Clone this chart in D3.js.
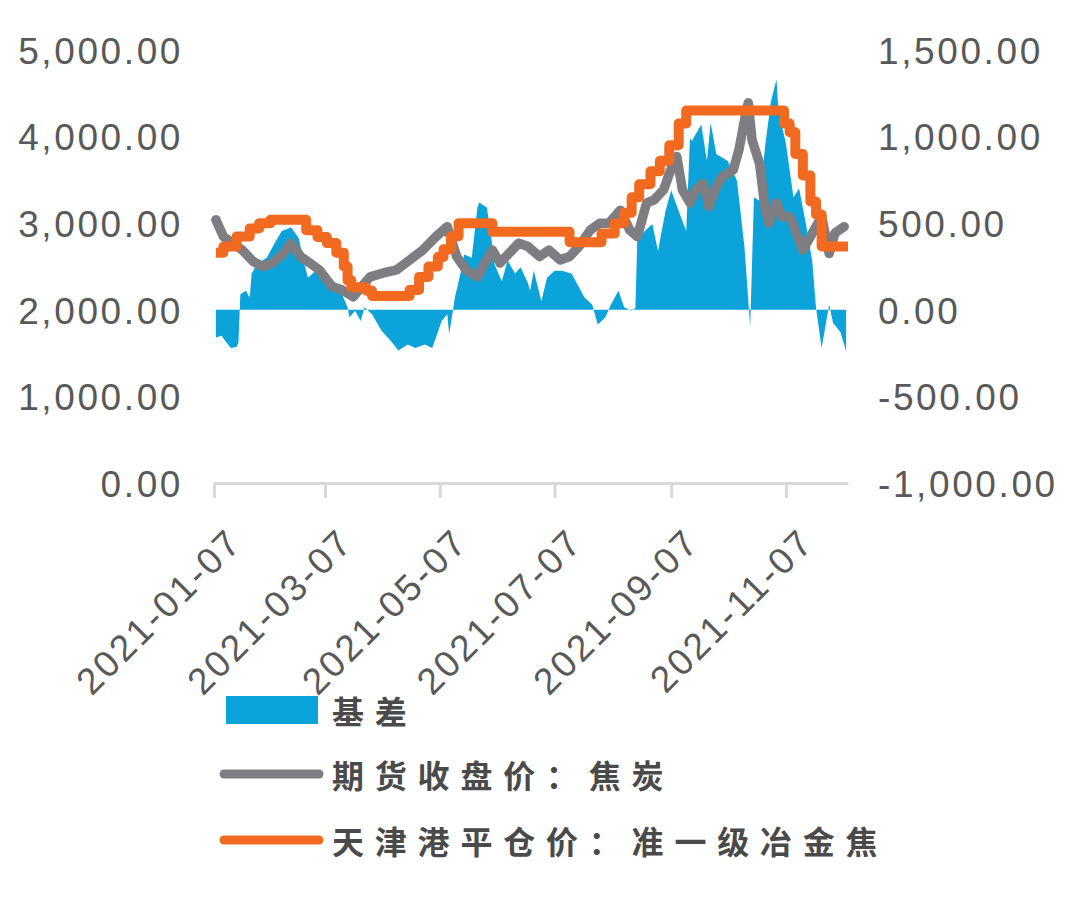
<!DOCTYPE html>
<html>
<head>
<meta charset="utf-8">
<script src="https://cdn.jsdelivr.net/npm/d3@7"></script>
<style>
  body { margin: 0; background: #ffffff; }
  .tick-label { font-family: "Liberation Sans", Arial, sans-serif; font-size: 37px; fill: #595959; letter-spacing: 2.6px; }
  .legend-label { font-family: "Noto Sans CJK SC", sans-serif; font-size: 32px; font-weight: 700; fill: #4a4a4a; letter-spacing: 10.8px; }
</style>
</head>
<body>
<svg id="chart" width="1080" height="913"></svg>
<script>

/* DATA */

// 基差, right axis
const basis = [
  ["2021-01-08", -160], ["2021-01-11", -150], ["2021-01-13", -180], ["2021-01-16", -220],
  ["2021-01-19", -215], ["2021-01-20", -190], ["2021-01-21", 90], ["2021-01-24", 110],
  ["2021-01-26", 70], ["2021-01-27", 210], ["2021-01-30", 265], ["2021-02-04", 300],
  ["2021-02-08", 380], ["2021-02-12", 455], ["2021-02-17", 475], ["2021-02-21", 415],
  ["2021-02-24", 265], ["2021-02-26", 185], ["2021-03-02", 225], ["2021-03-07", 165],
  ["2021-03-12", 130], ["2021-03-16", 90], ["2021-03-19", 15], ["2021-03-20", -45],
  ["2021-03-23", -5], ["2021-03-26", -65], ["2021-03-28", 15], ["2021-04-01", -25],
  ["2021-04-06", -120], ["2021-04-11", -180], ["2021-04-15", -235], ["2021-04-20", -200],
  ["2021-04-24", -220], ["2021-04-29", -200], ["2021-05-03", -220], ["2021-05-05", -160],
  ["2021-05-08", -65], ["2021-05-11", -25], ["2021-05-12", -140], ["2021-05-14", -5],
  ["2021-05-15", 70], ["2021-05-18", 210], ["2021-05-20", 320], ["2021-05-24", 300],
  ["2021-05-27", 590], ["2021-05-28", 620], ["2021-06-01", 590], ["2021-06-03", 455],
  ["2021-06-05", 265], ["2021-06-09", 165], ["2021-06-12", 285], ["2021-06-16", 210],
  ["2021-06-19", 245], ["2021-06-23", 150], ["2021-06-24", 110], ["2021-06-26", 225],
  ["2021-06-30", 50], ["2021-07-03", 185], ["2021-07-07", 225], ["2021-07-11", 225],
  ["2021-07-16", 210], ["2021-07-19", 150], ["2021-07-23", 70], ["2021-07-27", 30],
  ["2021-07-30", -85], ["2021-08-03", -45], ["2021-08-06", 30], ["2021-08-10", 110],
  ["2021-08-13", 15], ["2021-08-17", -5], ["2021-08-19", 10], ["2021-08-20", 415],
  ["2021-08-24", 455], ["2021-08-28", 495], ["2021-08-31", 340], ["2021-09-04", 570],
  ["2021-09-07", 690], ["2021-09-11", 570], ["2021-09-15", 455], ["2021-09-17", 990],
  ["2021-09-18", 975], ["2021-09-23", 1070], ["2021-09-26", 860], ["2021-09-28", 1080],
  ["2021-10-01", 900], ["2021-10-07", 860], ["2021-10-12", 745], ["2021-10-16", 360],
  ["2021-10-19", -100], ["2021-10-21", 650], ["2021-10-24", 630], ["2021-10-27", 950],
  ["2021-10-30", 1200], ["2021-11-02", 1330], ["2021-11-03", 1150], ["2021-11-07", 960],
  ["2021-11-11", 650], ["2021-11-14", 700], ["2021-11-18", 475], ["2021-11-21", 280],
  ["2021-11-23", 10], ["2021-11-26", -220], ["2021-11-30", 30], ["2021-12-02", -75],
  ["2021-12-06", -130], ["2021-12-09", -240]
];

// 期货收盘价：焦炭, left axis
const futures = [
  ["2021-01-08", 3040], ["2021-01-12", 2845], ["2021-01-17", 2770], ["2021-01-22", 2690],
  ["2021-01-28", 2555], ["2021-02-02", 2500], ["2021-02-07", 2540], ["2021-02-13", 2655],
  ["2021-02-17", 2770], ["2021-02-22", 2615], ["2021-02-27", 2540], ["2021-03-04", 2460],
  ["2021-03-08", 2345], ["2021-03-11", 2265], ["2021-03-16", 2230], ["2021-03-22", 2150],
  ["2021-03-25", 2230], ["2021-03-31", 2380], ["2021-04-07", 2425], ["2021-04-14", 2460],
  ["2021-04-21", 2575], ["2021-04-28", 2690], ["2021-05-05", 2845], ["2021-05-11", 2960],
  ["2021-05-16", 2615], ["2021-05-21", 2460], ["2021-05-27", 2380], ["2021-05-30", 2500],
  ["2021-06-04", 2690], ["2021-06-08", 2540], ["2021-06-13", 2655], ["2021-06-18", 2770],
  ["2021-06-23", 2730], ["2021-06-29", 2615], ["2021-07-04", 2690], ["2021-07-10", 2575],
  ["2021-07-15", 2615], ["2021-07-20", 2730], ["2021-07-26", 2920], ["2021-07-31", 3000],
  ["2021-08-05", 3000], ["2021-08-11", 3150], ["2021-08-16", 2920], ["2021-08-20", 2845],
  ["2021-08-25", 3235], ["2021-08-29", 3270], ["2021-09-03", 3385], ["2021-09-08", 3690],
  ["2021-09-10", 3770], ["2021-09-13", 3385], ["2021-09-17", 3235], ["2021-09-20", 3385],
  ["2021-09-24", 3460], ["2021-09-27", 3190], ["2021-10-01", 3420], ["2021-10-04", 3535],
  ["2021-10-10", 3615], ["2021-10-13", 3845], ["2021-10-17", 4305], ["2021-10-18", 4390],
  ["2021-10-20", 3960], ["2021-10-24", 3690], ["2021-10-27", 3150], ["2021-10-29", 3000],
  ["2021-11-02", 3235], ["2021-11-05", 3075], ["2021-11-09", 3075], ["2021-11-12", 2920],
  ["2021-11-16", 2690], ["2021-11-20", 2845], ["2021-11-23", 2960], ["2021-11-26", 3075],
  ["2021-11-30", 2650], ["2021-12-03", 2885], ["2021-12-08", 2960]
];

// 天津港平仓价：准一级冶金焦, left axis (price steps)
const spot = [
  ["2021-01-08", 2660], ["2021-01-12", 2730], ["2021-01-19", 2845], ["2021-01-26", 2940],
  ["2021-01-31", 3000], ["2021-02-06", 3040], ["2021-02-25", 2920], ["2021-03-03", 2840],
  ["2021-03-08", 2770], ["2021-03-13", 2660], ["2021-03-17", 2500], ["2021-03-19", 2340],
  ["2021-03-21", 2260], ["2021-03-29", 2220], ["2021-04-01", 2160], ["2021-04-21", 2230],
  ["2021-04-26", 2380], ["2021-05-01", 2500], ["2021-05-06", 2610], ["2021-05-09", 2700],
  ["2021-05-13", 2850], ["2021-05-17", 3000], ["2021-06-04", 2900], ["2021-07-15", 2780],
  ["2021-08-01", 2880], ["2021-08-08", 3000], ["2021-08-13", 3120], ["2021-08-17", 3300],
  ["2021-08-21", 3450], ["2021-08-27", 3600], ["2021-09-01", 3720], ["2021-09-06", 3900],
  ["2021-09-11", 4150], ["2021-09-15", 4300], ["2021-11-06", 4150], ["2021-11-09", 4050],
  ["2021-11-12", 3800], ["2021-11-16", 3550], ["2021-11-20", 3250], ["2021-11-23", 3100],
  ["2021-11-26", 2730], ["2021-12-10", 2730]
];

const tickDates = ["2021-01-07", "2021-03-07", "2021-05-07", "2021-07-07", "2021-09-07", "2021-11-07"];
const leftTicks = [0, 1000, 2000, 3000, 4000, 5000];
const rightTicks = [-1000, -500, 0, 500, 1000, 1500];
const legendNames = ["基差", "期货收盘价：焦炭", "天津港平仓价：准一级冶金焦"];
const colors = ["#0ba3da", "#7e7e82", "#f26a1f"];


/* SCALES */

const parseDate = d3.timeParse("%Y-%m-%d");
const fmtDate = d3.timeFormat("%Y-%m-%d");
const fmtNum = d3.formatLocale({decimal: ".", thousands: ",", grouping: [3], currency: ["", ""], minus: "-"}).format(",.2f");

const plotLeft = 214, plotRight = 848, plotTop = 50, plotBottom = 483;

let xScale = d3.scaleTime()
    .domain([parseDate("2021-01-07"), parseDate("2021-12-10")])
    .range([plotLeft, plotRight]);

let leftScale = d3.scaleLinear().domain([0, 5000]).range([plotBottom, plotTop]);
let rightScale = d3.scaleLinear().domain([-1000, 1500]).range([plotBottom, plotTop]);

let svg = d3.select("svg#chart");


/* SERIES */

const basisArea = d3.area()
    .x(d => xScale(parseDate(d[0])))
    .y0(rightScale(0))
    .y1(d => rightScale(d[1]));

svg.append("path")
  .datum(basis)
  .attr("d", basisArea)
  .style("fill", colors[0]);

const futuresLine = d3.line()
    .x(d => xScale(parseDate(d[0])))
    .y(d => leftScale(d[1]));

svg.append("path")
  .datum(futures)
  .attr("d", futuresLine)
  .style("fill", "none")
  .style("stroke", colors[1])
  .style("stroke-width", 9.5)
  .style("stroke-linejoin", "round")
  .style("stroke-linecap", "round");

const spotLine = d3.line()
    .curve(d3.curveStepAfter)
    .x(d => xScale(parseDate(d[0])))
    .y(d => leftScale(d[1]));

svg.append("path")
  .datum(spot)
  .attr("d", spotLine)
  .style("fill", "none")
  .style("stroke", colors[2])
  .style("stroke-width", 10)
  .style("stroke-linejoin", "round");


/* AXES */

let yLeftGroup = svg.append("g").attr("transform", "translate(" + plotLeft + ",0)")
  .call(d3.axisLeft(leftScale).tickValues(leftTicks).tickFormat(fmtNum).tickSize(0).tickPadding(31));
yLeftGroup.select(".domain").remove();
yLeftGroup.selectAll("text").attr("class", "tick-label").attr("fill", null).attr("dy", "0.36em");

let yRightGroup = svg.append("g").attr("transform", "translate(" + plotRight + ",0)")
  .call(d3.axisRight(rightScale).tickValues(rightTicks).tickFormat(fmtNum).tickSize(0).tickPadding(30));
yRightGroup.select(".domain").remove();
yRightGroup.selectAll("text").attr("class", "tick-label").attr("fill", null).attr("dy", "0.36em");

let xGroup = svg.append("g").attr("transform", "translate(0," + plotBottom + ")")
  .call(d3.axisBottom(xScale)
    .tickValues(tickDates.map(parseDate))
    .tickFormat(fmtDate)
    .tickSize(15)
    .tickSizeOuter(0));

xGroup.select(".domain").style("stroke", "#d9d9d9").style("stroke-width", 3);
xGroup.selectAll(".tick line").style("stroke", "#d9d9d9").style("stroke-width", 3);
xGroup.selectAll("text")
  .attr("class", "tick-label")
  .attr("fill", null)
  .attr("x", 0)
  .attr("y", 0)
  .attr("dy", "0.36em")
  .attr("text-anchor", "end")
  .attr("transform", "translate(20,52) rotate(-45)");


/* LEGEND */

const legend = svg.append("g").attr("id", "legend");
const legendY = [710, 774, 840];

legend.append("rect")
  .attr("x", 226).attr("y", legendY[0] - 14)
  .attr("width", 92).attr("height", 28)
  .style("fill", colors[0]);

[1, 2].forEach(function(i) {
  legend.append("line")
    .attr("x1", 224).attr("x2", 319)
    .attr("y1", legendY[i]).attr("y2", legendY[i])
    .style("stroke", colors[i])
    .style("stroke-width", 9)
    .style("stroke-linecap", "round");
});

legend.selectAll("text.legend-label")
  .data(legendNames)
  .join("text")
  .attr("class", "legend-label")
  .attr("x", 332)
  .attr("y", (d, i) => legendY[i] + 2)
  .attr("dy", "0.36em")
  .text(d => d);

</script>
</body>
</html>
